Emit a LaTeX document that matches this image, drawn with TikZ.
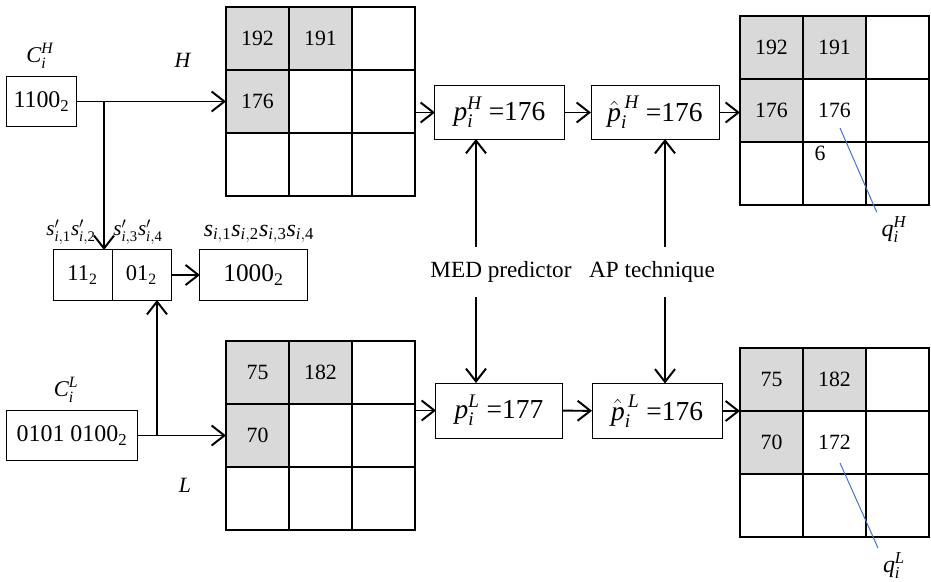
\documentclass[tikz,border=0pt]{standalone}
\usepackage{amsmath}
\usepackage{fontspec}
\setmainfont{Liberation Serif}
\usetikzlibrary{arrows.meta,positioning}
\definecolor{CellGrey}{HTML}{D9D9D9}
\definecolor{PointerBlue}{HTML}{4472C4}
\newcommand{\vname}[3]{$\textit{#1}_{\textit{#2}}^{\textit{#3}}$}
\newcommand{\sidx}[2]{\textit{#1}_{\textit{i},\text{#2}}}
\tikzset{
  pxcell/.style={
    draw,
    line width=0.8pt,
    minimum size=1.575cm,
    inner sep=0pt,
    outer sep=0pt
  },
  valbox/.style={
    draw,
    line width=0.7pt,
    minimum height=1.25cm,
    inner sep=2pt,
    outer sep=0pt,
    font=\fontsize{17}{20}\selectfont
  },
  predbox/.style={valbox, minimum height=1.325cm, font=\fontsize{19.5}{22}\selectfont},
  cellnum/.style={font=\fontsize{15.5}{18}\selectfont},
  tag/.style={font=\fontsize{16}{19}\selectfont},
  flow/.style={-{Straight Barb[length=3.2mm,width=5mm]}, line width=1.4pt},
  qline/.style={draw=PointerBlue, line width=0.7pt}
}

\begin{document}
\begin{tikzpicture}[x=0.025cm, y=-0.025cm]
  \useasboundingbox (0,0) rectangle (931,582);
  % the four 3x3 pixel blocks
  \foreach \g/\gx/\gy in {Hg/226/7, Lg/226/341, RH/740/16, RL/740/348}
    \foreach \r/\c/\f in {1/1/CellGrey, 1/2/CellGrey, 1/3/white,
                          2/1/CellGrey, 2/2/white, 2/3/white,
                          3/1/white, 3/2/white, 3/3/white}
      \node[pxcell, fill=\f] (\g-\r-\c) at ({\gx+63*\c-31.5}, {\gy+63*\r-31.5}) {};
  \node[cellnum] (h11) at (Hg-1-1) {192};
  \node[cellnum] (h12) at (Hg-1-2) {191};
  \node[cellnum] (h21) at (Hg-2-1) {176};
  \node[cellnum] (l11) at (Lg-1-1) {75};
  \node[cellnum] (l12) at (Lg-1-2) {182};
  \node[cellnum] (l21) at (Lg-2-1) {70};
  \node[cellnum] (rh11) at (RH-1-1) {192};
  \node[cellnum] (rh12) at (RH-1-2) {191};
  \node[cellnum] (rh21) at (RH-2-1) {176};
  \node[cellnum] (rh22) at (RH-2-2) {176};
  \node[cellnum] (rl11) at (RL-1-1) {75};
  \node[cellnum] (rl12) at (RL-1-2) {182};
  \node[cellnum] (rl21) at (RL-2-1) {70};
  \node[cellnum] (rl22) at (RL-2-2) {172};
  \node[cellnum, anchor=north west, inner sep=1pt] (six) at ([xshift=0.25cm,yshift=-0.05cm]RH-3-2.north west) {6};
  \node[cellnum] (hlab) at (183,60) {\textit{H}};
  \node[cellnum] (llab) at (185,485) {\textit{L}};

  % codes and extracted bits
  \node[valbox, minimum width=1.725cm] (cH) at (41.5,101.5) {1100\textsubscript{2}};
  \node[tag] (cHlab) at (40,56) {\vname{C}{i}{H}};
  \node[valbox, minimum width=3.25cm] (cL) at (72,435.5) {0101 0100\textsubscript{2}};
  \node[tag] (cLlab) at (66,390) {\vname{C}{i}{L}};
  \node[valbox, minimum width=1.475cm, font=\fontsize{16}{19}\selectfont] (sA) at (82.5,275) {11\textsubscript{2}};
  \node[valbox, minimum width=1.475cm, font=\fontsize{16}{19}\selectfont, right=0pt of sA] (sB) {01\textsubscript{2}};
  \node[font=\fontsize{15}{18}\selectfont] (sAlab) at (71,232) {$\textit{s}'_{\textit{i},\text{1}}\textit{s}'_{\textit{i},\text{2}}$};
  \node[font=\fontsize{15}{18}\selectfont] (sBlab) at (138,232) {$\textit{s}'_{\textit{i},\text{3}}\textit{s}'_{\textit{i},\text{4}}$};
  \node[valbox, minimum width=2.675cm, font=\fontsize{18}{21}\selectfont] (sv) at (253.5,275) {1000\textsubscript{2}};
  \node[font=\fontsize{17}{20}\selectfont] (svlab) at (259,234) {$\sidx{s}{1}\sidx{s}{2}\sidx{s}{3}\sidx{s}{4}$};

  % predictions
  \node[predbox, minimum width=3.225cm] (pH) at (499.5,112.5) {\vname{p}{i}{H} =176};
  \node[predbox, minimum width=3.2cm] (phH) at (655,112.5) {$\hat{\textit{p}}_{\textit{i}}^{\,\textit{H}}$ =176};
  \node[predbox, minimum width=3.15cm, minimum height=1.375cm] (pL) at (499,410.5) {\vname{p}{i}{L} =177};
  \node[predbox, minimum width=3.25cm, minimum height=1.375cm] (phL) at (657,411) {$\hat{\textit{p}}_{\textit{i}}^{\,\textit{L}}$ =176};
  \node[font=\fontsize{16.5}{19}\selectfont, minimum height=1.25cm] (med) at (501,272) {MED predictor};
  \node[font=\fontsize{16.5}{19}\selectfont, minimum height=1.25cm] (ap) at (652,272) {AP technique};
  \coordinate (medx) at (476,0);
  \coordinate (apx) at (665,0);

  % connectors
  \coordinate (jH) at (104,101.5);
  \coordinate (jL) at (157,435.5);
  \draw[flow] (cH) -- (Hg-2-1.west);
  \draw[flow] (jH) -- (jH |- sA.north);
  \draw[flow] (cL) -- (Lg-2-1.west);
  \draw[flow] (jL) -- (jL |- sB.south);
  \draw[flow] (sB) -- (sv);
  \draw[flow] (Hg-2-3.east |- pH.west) -- (pH.west);
  \draw[flow] (pH) -- (phH);
  \draw[flow] (phH.east) -- (phH.east -| RH-2-1.west);
  \draw[flow] (Lg-2-3.east |- pL.west) -- (pL.west);
  \draw[flow] (pL) -- (phL);
  \draw[flow] (phL.east) -- (phL.east -| RL-2-1.west);
  \draw[flow] (med.north -| medx) -- (pH.south -| medx);
  \draw[flow] (med.south -| medx) -- (pL.north -| medx);
  \draw[flow] (ap.north -| apx) -- (phH.south -| apx);
  \draw[flow] (ap.south -| apx) -- (phL.north -| apx);

  % pointers to the embedded pixels
  \coordinate (qHtip) at (840,128);
  \coordinate (qLtip) at (840,463);
  \node[tag, font=\fontsize{17}{20}\selectfont] (qH) at (894,230) {\vname{q}{i}{H}};
  \node[tag, font=\fontsize{17}{20}\selectfont] (qL) at (894,566) {\vname{q}{i}{L}};
  \draw[qline] (qHtip) -- (qH.north west);
  \draw[qline] (qLtip) -- (qL.north west);
\end{tikzpicture}
\end{document}
